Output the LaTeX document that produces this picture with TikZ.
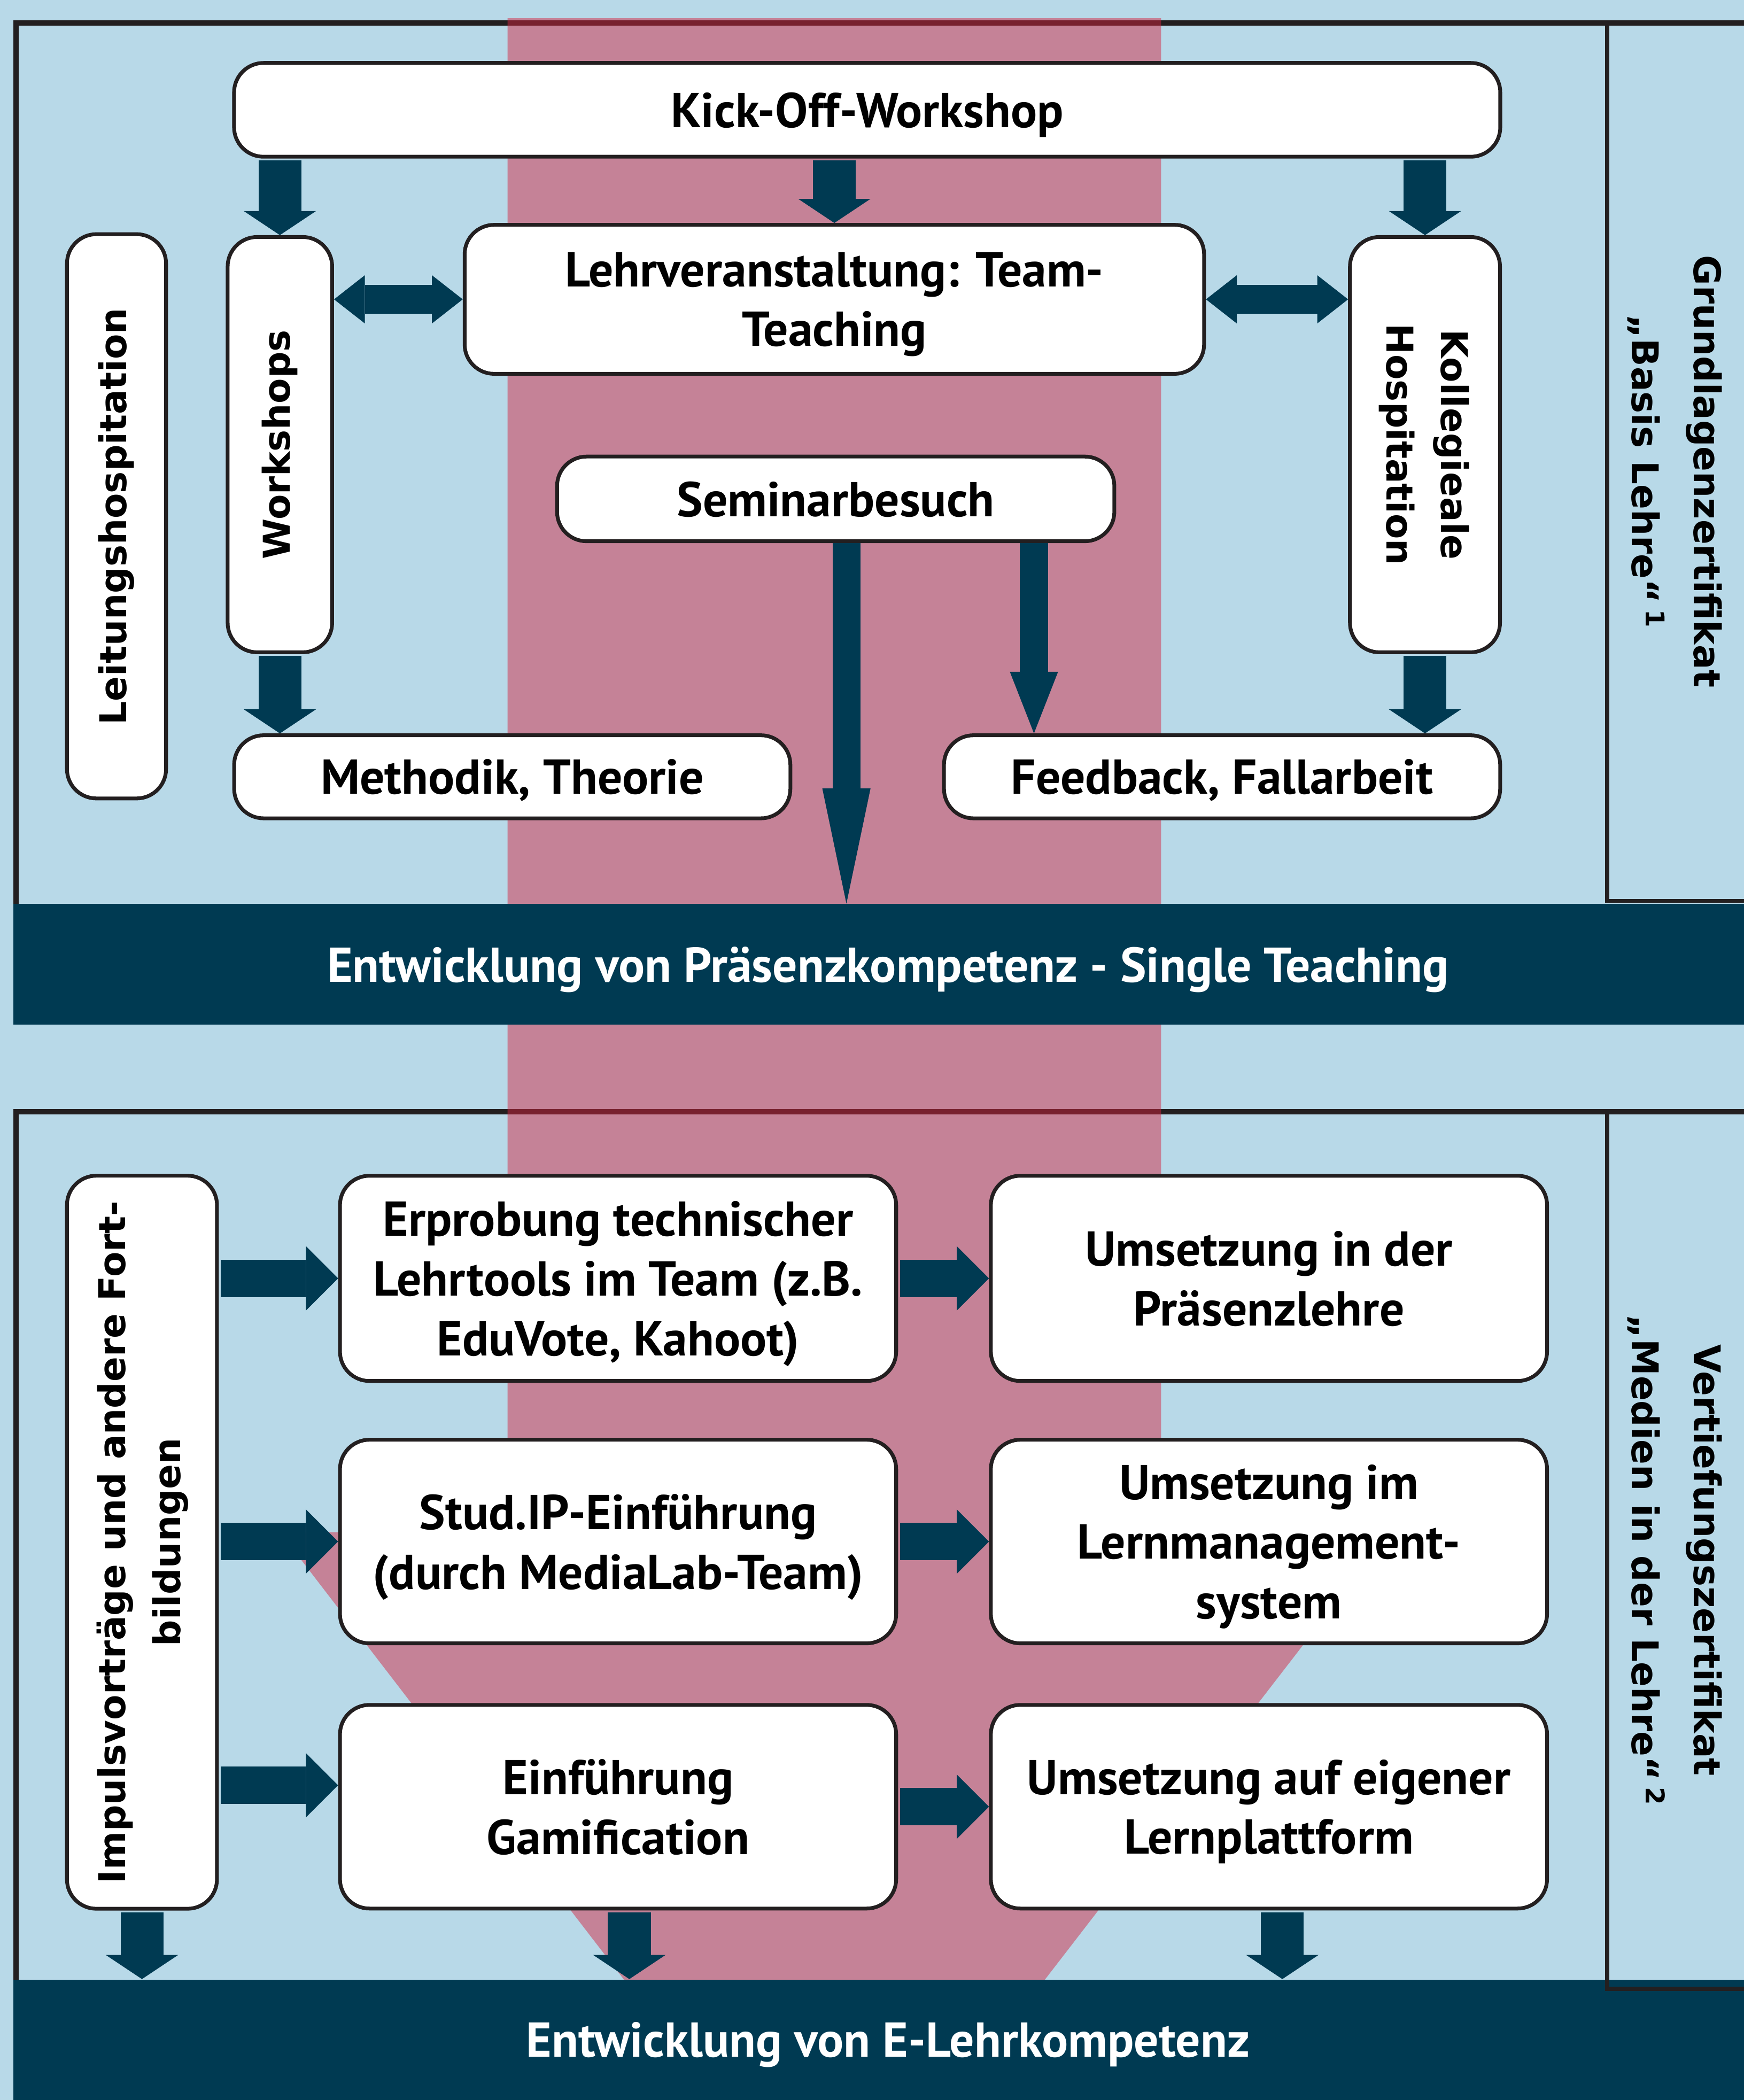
\documentclass[tikz,border=0pt]{standalone}
\usepackage{fontspec}
\usepackage{graphicx}
\usetikzlibrary{arrows.meta}
\setmainfont{PT Sans}
\newfontfamily\vfont{DejaVu Sans}
\newcommand\boxfont{\bfseries\fontsize{26}{31.7}\selectfont}
\newcommand\sidefont{\vfont\bfseries\fontsize{19.6}{29}\selectfont}
\newcommand\labfont{\vfont\bfseries\fontsize{19.6}{33}\selectfont}
\definecolor{sky}{RGB}{184,217,232}
\definecolor{rose}{RGB}{213,37,64}
\definecolor{navy}{RGB}{0,58,82}
\definecolor{ink}{RGB}{35,31,32}

\begin{document}
\begin{tikzpicture}[x=0.025cm, y=-0.025cm,
    box/.style={draw=ink, fill=white, line width=2pt, rounded corners=0.55cm, inner sep=0pt, align=center, text depth=-2.5pt, font=\boxfont},
    vbox/.style={draw=ink, fill=white, line width=2pt, rounded corners=0.55cm, inner sep=0pt, font=\sidefont},
    bar/.style={fill=navy, text=white, minimum width=32.65cm, minimum height=2.25cm, inner sep=0pt, font=\boxfont},
    frame/.style={draw=ink, line width=0.1cm},
    fat/.style={draw=navy, line width=0.8cm, shorten <=1pt, -{Triangle[width=1.35cm, length=0.45cm, line width=0pt]}},
    dbl/.style={draw=navy, line width=0.54cm, {Triangle[width=0.9cm, length=0.575cm, line width=0pt]}-{Triangle[width=0.9cm, length=0.575cm, line width=0pt]}},
    harrow/.style={draw=navy, line width=0.7cm, shorten <=1pt, -{Triangle[width=1.2cm, length=0.6cm, line width=0pt]}},
    slim/.style={draw=navy, line width=0.52cm, -{Triangle[width=0.9cm, length=#1, line width=0pt]}}]
  \useasboundingbox (0, 0) rectangle (1302, 1568);
  \fill [sky] (0, 0) rectangle (1302, 1568);
  % frames of the two blocks
  \draw [frame] (1302, 17) -- (12, 17) -- (12, 676);
  \draw [frame] (1302, 830) -- (12, 830) -- (12, 1479);
  % pink band with arrow head
  \fill [rose, fill opacity=0.48] (379, 13.6) -- (867, 13.6) -- (867, 1144) -- (1038, 1144)
    -- (779.5, 1479) -- (466.6, 1479) -- (209, 1144) -- (379, 1144) -- cycle;
  \node [bar, text depth=-1.5pt] (bar1) at (663, 720) {Entwicklung von Präsenzkompetenz - Single Teaching};
  \node [bar, text depth=-7.5pt] (bar2) at (663, 1523) {Entwicklung von E-Lehrkompetenz};
  \draw [frame, line width=0.075cm] (1200, 17) -- (1200, 672.6) -- (1302, 672.6);
  \draw [frame, line width=0.075cm] (1200, 832) -- (1200, 1485) -- (1302, 1485);

  % upper block
  \node [box, minimum width=23.63cm, minimum height=1.75cm] (kick) at (647.5, 82) {Kick-Off-Workshop};
  \node [box, minimum width=13.8cm, minimum height=2.78cm] (lehr) at (623, 223.5) {Lehrveranstaltung: Team-\\Teaching};
  \node [vbox, minimum width=1.95cm, minimum height=7.75cm] (works) at (209, 332) {\rotatebox{90}{Workshops}};
  \node [vbox, minimum width=1.85cm, minimum height=10.53cm] (leit) at (87, 385.5) {\rotatebox{90}{Leitungshospitation}};
  \node [vbox, minimum width=2.8cm, minimum height=7.75cm] (koll) at (1064, 332)
    {\rotatebox{-90}{\begin{tabular}{@{}c@{}}Kollegieale\\Hospitation\end{tabular}}};
  \node [box, minimum width=10.4cm, minimum height=1.58cm] (semi) at (624, 372.5) {Seminarbesuch};
  \node [box, minimum width=10.38cm, minimum height=1.55cm] (meth) at (382.5, 580) {Methodik, Theorie};
  \node [box, minimum width=10.38cm, minimum height=1.55cm] (feed) at (912.5, 580) {Feedback, Fallarbeit};
  \node [font=\labfont] (lab1) at (1251, 352)
    {\rotatebox{-90}{\begin{tabular}{@{}c@{}}Grundlagenzertifikat\\„Basis Lehre“\,\textsuperscript{1}\end{tabular}}};

  \draw [fat] (kick.south -| works) -- (works.north);
  \draw [fat] (kick.south -| lehr) -- (lehr.north);
  \draw [fat] (kick.south -| koll) -- (koll.north);
  \draw [dbl] (works.east |- lehr) -- (lehr.west);
  \draw [dbl] (lehr.east) -- (lehr.east -| koll.west);
  \draw [fat] (works.south) -- (works.south |- meth.north);
  \draw [fat] (koll.south) -- (koll.south |- feed.north);
  \draw [slim=1.15cm] ([xshift=3.7cm]semi.south) -- ([xshift=3.7cm]semi.south |- feed.north);
  \draw [slim=2.15cm] ([xshift=0.2cm]semi.south) -- ([xshift=0.2cm]semi.south |- bar1.north);

  % lower block
  \node [vbox, minimum width=2.8cm, minimum height=13.68cm] (imp) at (106, 1151.5)
    {\rotatebox{90}{\begin{tabular}{@{}c@{}}Impulsvorträge und andere Fort-\\bildungen\end{tabular}}};
  \node [box, minimum width=10.38cm, minimum height=3.83cm] (erp) at (461.5, 954.5) {Erprobung technischer\\Lehrtools im Team (z.B.\\EduVote, Kahoot)};
  \node [box, minimum width=10.38cm, minimum height=3.83cm] (ump) at (947.5, 954.5) {Umsetzung in der\\Präsenzlehre};
  \node [box, minimum width=10.38cm, minimum height=3.8cm] (stud) at (461.5, 1151) {Stud.IP-Einführung\\(durch MediaLab-Team)};
  \node [box, minimum width=10.38cm, minimum height=3.8cm] (uml) at (947.5, 1151) {Umsetzung im\\Lernmanagement-\\system};
  \node [box, minimum width=10.38cm, minimum height=3.8cm] (gam) at (461.5, 1349) {Einführung\\Gamification};
  \node [box, minimum width=10.38cm, minimum height=3.8cm] (uel) at (947.5, 1349) {Umsetzung auf eigener\\Lernplattform};
  \node [font=\labfont] (lab2) at (1251, 1165)
    {\rotatebox{-90}{\begin{tabular}{@{}c@{}}Vertiefungszertifikat\\„Medien in der Lehre“\,\textsuperscript{2}\end{tabular}}};

  \draw [harrow] (imp.east |- erp) -- (erp.west);
  \draw [harrow] (imp.east |- stud) -- (stud.west);
  \draw [harrow] ([yshift=0.4cm]imp.east |- gam) -- ([yshift=0.4cm]gam.west);
  \draw [harrow] (erp.east) -- (ump.west);
  \draw [harrow] (stud.east) -- (uml.west);
  \draw [harrow] (gam.east) -- (uel.west);
  \draw [fat] (imp.south) -- (imp.south |- bar2.north);
  \draw [fat] ([xshift=0.21cm]gam.south) -- ([xshift=0.21cm]gam.south |- bar2.north);
  \draw [fat] ([xshift=0.25cm]uel.south) -- ([xshift=0.25cm]uel.south |- bar2.north);
\end{tikzpicture}
\end{document}
